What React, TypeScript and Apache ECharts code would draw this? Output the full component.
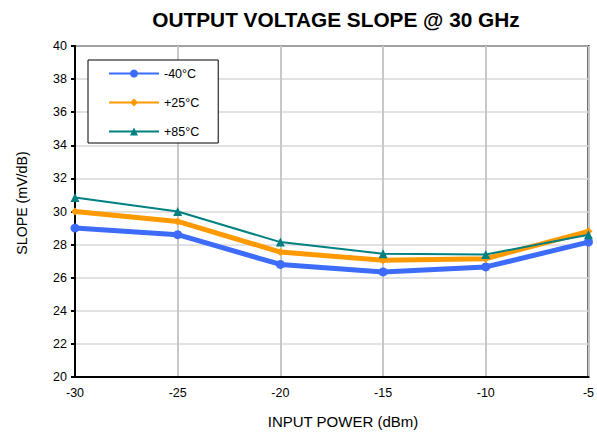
import React, { useEffect, useRef } from "react";
import * as echarts from "echarts";

const xValues = [-30, -25, -20, -15, -10, -5];
const seriesNames = ["-40°C", "+25°C", "+85°C"];
const minus40 = [29.0, 28.6, 26.8, 26.35, 26.65, 28.15];
const plus25 = [30.0, 29.4, 27.55, 27.05, 27.15, 28.8];
const plus85 = [30.85, 30.0, 28.15, 27.45, 27.4, 28.6];
const titleText = "OUTPUT VOLTAGE SLOPE @ 30 GHz";
const xName = "INPUT POWER (dBm)";
const yName = "SLOPE (mV/dB)";

const FONT = "Arial, 'Liberation Sans', sans-serif";

export default function App() {
  const ref = useRef<HTMLDivElement>(null);
  useEffect(() => {
    if (!ref.current) return;
    const chart = echarts.init(ref.current, null, { renderer: "svg" });
    const toPairs = (arr: number[]) => arr.map((v, i) => [xValues[i], v]);
    chart.setOption({
      animation: false,
      backgroundColor: "#fff",
      textStyle: { fontFamily: FONT },
      title: {
        text: titleText,
        left: 331,
        textAlign: "center",
        top: 4,
        textStyle: { fontFamily: FONT, fontSize: 20.8, fontWeight: "bold", color: "#000" },
      },
      graphic: [
        {
          type: "text",
          x: 343,
          y: 421,
          style: {
            text: xName,
            fontFamily: FONT,
            fontSize: 15,
            fill: "#000",
            textAlign: "center",
            textVerticalAlign: "middle",
          },
        },
        {
          type: "text",
          x: 22,
          y: 203,
          rotation: Math.PI / 2,
          style: {
            text: yName,
            fontFamily: FONT,
            fontSize: 14.2,
            fill: "#000",
            textAlign: "center",
            textVerticalAlign: "middle",
          },
        },
      ],
      grid: {
        left: 75,
        right: 7,
        top: 46,
        bottom: 55,
        show: true,
        borderColor: "#000",
        borderWidth: 2,
        backgroundColor: "transparent",
      },
      legend: {
        orient: "vertical",
        left: 88,
        top: 60,
        itemWidth: 50,
        itemHeight: 10,
        itemGap: 16,
        padding: [7, 19, 5, 20],
        borderColor: "#000",
        borderWidth: 1,
        backgroundColor: "#fff",
        textStyle: { fontFamily: FONT, fontSize: 12.5, color: "#000" },
        data: seriesNames,
      },
      xAxis: {
        type: "value",
        min: -30,
        max: -5,
        interval: 5,
        axisLine: { show: true, lineStyle: { color: "#000", width: 2 } },
        axisTick: { show: false },
        axisLabel: { fontFamily: FONT, fontSize: 12.5, color: "#000", margin: 9 },
        splitLine: { show: true, lineStyle: { color: "#c8c8c8", width: 2 } },
      },
      yAxis: {
        type: "value",
        min: 20,
        max: 40,
        interval: 2,
        axisLine: { show: true, lineStyle: { color: "#000", width: 2 } },
        axisTick: { show: true, length: 4, lineStyle: { color: "#000", width: 2 } },
        axisLabel: { fontFamily: FONT, fontSize: 12.5, color: "#000", margin: 8 },
        splitLine: { show: true, lineStyle: { color: "#d9d9d9", width: 1.5 } },
      },
      series: [
        {
          name: seriesNames[0],
          type: "line",
          data: toPairs(minus40),
          symbol: "circle",
          symbolSize: 9,
          color: "#3d6bfa",
          lineStyle: { width: 5, color: "#3d6bfa" },
          itemStyle: { color: "#3d6bfa" },
        },
        {
          name: seriesNames[1],
          type: "line",
          data: toPairs(plus25),
          symbol: "diamond",
          symbolSize: 8,
          color: "#ff9900",
          lineStyle: { width: 5, color: "#ff9900" },
          itemStyle: { color: "#ff9900" },
        },
        {
          name: seriesNames[2],
          type: "line",
          data: toPairs(plus85),
          symbol: "triangle",
          symbolSize: 9,
          color: "#008080",
          lineStyle: { width: 2, color: "#008080" },
          itemStyle: { color: "#008080" },
        },
      ],
    });
    return () => chart.dispose();
  }, []);
  return <div ref={ref} style={{ width: 597, height: 432, position: "absolute", left: 0, top: 0 }} />;
}
